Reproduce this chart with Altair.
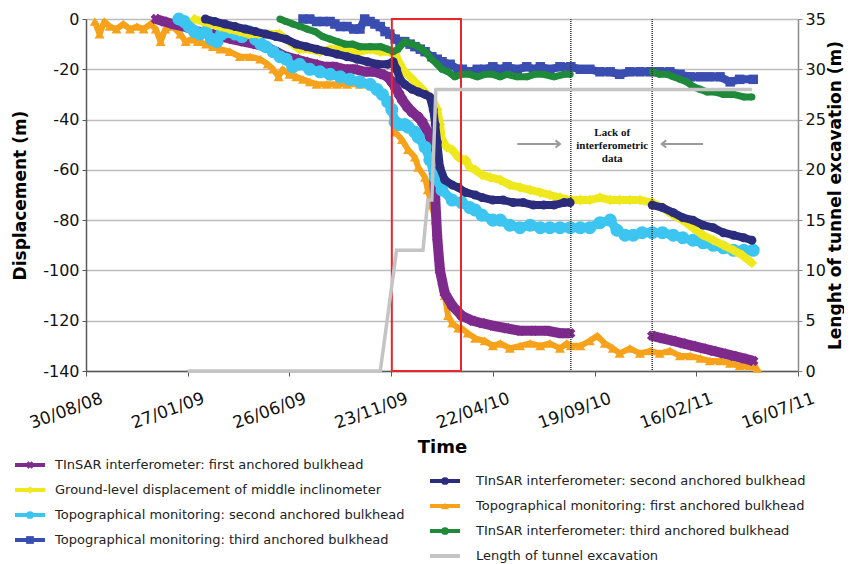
import altair as alt
import pandas as pd

START = pd.Timestamp("2008-08-30")
END = pd.Timestamp("2011-07-16")
TICK_DAYS = [0, 150, 300, 450, 600, 750, 900, 1050]

# [days since 30/08/08, displacement (m)]
topo_first = [[13,-1],[20,-6],[27,-1],[35,-3],[45,-4],[55,-2],[65,-4],[75,-3],[85,-4],[95,-2],[103,-4],[110,-9],[117,-4],[128,-3],[139,-6],[147,-9],[155,-8],[165,-9],[177,-10],[187,-11],[198,-12],[212,-13],[227,-15],[242,-15],[257,-16],[268,-18],[276,-20],[284,-23],[290,-20],[300,-22],[310,-23],[320,-24],[330,-25],[340,-26],[355,-26],[370,-26],[385,-26],[404,-26],[420,-26],[431,-28],[441,-30],[448,-33],[453,-40],[456,-45],[466,-48],[475,-52],[485,-55],[490,-59],[500,-63],[504,-68],[510,-74],[515,-80],[519,-89],[522,-96],[525,-104],[529,-110],[534,-118],[540,-121],[549,-123],[554,-123],[563,-125],[574,-127],[588,-128],[600,-130],[611,-129],[625,-131],[640,-130],[655,-129],[670,-130],[684,-129],[699,-131],[709,-129],[715,-130],[729,-130],[743,-128],[754,-126],[765,-129],[777,-131],[787,-133],[802,-131],[817,-133],[832,-132],[846,-133],[861,-132],[876,-134],[891,-134],[906,-135],[920,-136],[935,-136],[950,-137],[964,-138],[979,-138],[990,-139]]
topo_second = [[137,0],[145,-1],[152,-3],[160,-5],[168,-6],[177,-5],[185,-8],[193,-9],[200,-6],[210,-5],[220,-6],[230,-7],[240,-5],[250,-8],[258,-10],[265,-11],[276,-13],[286,-15],[295,-16],[305,-19],[315,-18],[330,-20],[345,-21],[360,-22],[375,-23],[389,-24],[404,-25],[419,-26],[429,-28],[437,-30],[445,-33],[451,-36],[456,-41],[462,-42],[470,-42],[475,-43],[485,-45],[490,-47],[500,-51],[507,-56],[515,-63],[525,-68],[540,-72],[554,-73],[566,-75],[574,-76],[584,-78],[600,-80],[611,-80],[625,-82],[640,-83],[655,-82],[670,-83],[684,-83],[699,-83],[714,-83],[729,-83],[743,-83],[758,-81],[773,-80],[783,-84],[795,-86],[807,-86],[820,-85],[835,-85],[850,-85],[866,-86],[880,-87],[895,-88],[910,-89],[925,-90],[940,-91],[955,-92],[970,-92],[984,-92]]
inclinometer = [[160,0],[172,-1],[185,-2],[198,-3],[212,-4],[227,-5],[240,-6],[255,-6],[270,-6],[285,-6],[300,-9],[315,-12],[330,-12],[345,-13],[360,-12],[375,-12],[389,-13],[404,-13],[419,-12],[434,-13],[448,-13],[456,-14],[463,-18],[470,-21],[478,-23],[485,-25],[493,-27],[500,-29],[507,-31],[512,-33],[518,-36],[522,-42],[525,-48],[532,-51],[540,-52],[549,-55],[556,-56],[560,-56],[566,-59],[574,-60],[584,-62],[596,-63],[611,-64],[625,-66],[640,-67],[655,-68],[670,-69],[684,-70],[699,-71],[715,-72],[729,-72],[743,-72],[758,-71],[773,-72],[787,-72],[802,-72],[817,-72],[835,-73],[850,-75],[866,-78],[880,-80],[895,-83],[910,-86],[925,-88],[940,-90],[955,-92],[968,-94],[982,-97]]
topo_third = [[320,0],[330,0],[340,-1],[350,-1],[360,-1],[367,-2],[375,-3],[385,-3],[395,-4],[404,-4],[411,0],[419,-1],[426,-2],[434,-3],[441,-5],[448,-6],[456,-8],[463,-9],[470,-9],[478,-10],[485,-11],[493,-12],[500,-13],[510,-15],[518,-16],[525,-17],[537,-18],[549,-20],[555,-20],[566,-21],[577,-20],[588,-20],[600,-19],[611,-20],[621,-19],[636,-20],[650,-19],[661,-20],[670,-19],[684,-20],[699,-19],[715,-19],[729,-20],[743,-20],[758,-21],[773,-21],[787,-22],[802,-21],[817,-21],[832,-21],[846,-21],[861,-21],[876,-22],[891,-23],[906,-23],[920,-23],[935,-23],[950,-25],[964,-24],[984,-24]]
tinsar_first = [[103,0],[115,-1],[128,-2],[145,-3],[165,-5],[185,-6],[200,-7],[215,-8],[232,-9],[250,-10],[265,-11],[280,-13],[295,-15],[310,-16],[323,-17],[338,-18],[352,-19],[367,-19],[382,-20],[397,-20],[411,-21],[426,-21],[437,-22],[445,-23],[451,-25],[456,-27],[462,-30],[466,-32],[474,-35],[481,-37],[490,-39],[496,-41],[504,-45],[510,-49],[512,-57],[515,-71],[518,-87],[522,-100],[529,-109],[540,-114],[554,-118],[570,-120],[584,-121],[600,-122],[620,-123],[640,-124],[660,-124],[680,-124],[700,-125],[714,-125],[835,-126],[850,-127],[866,-128],[880,-129],[895,-130],[910,-131],[925,-132],[940,-133],[955,-134],[970,-135],[984,-136]]
tinsar_second = [[176,0],[190,-1],[205,-2],[220,-3],[235,-4],[250,-5],[265,-6],[280,-7],[295,-8],[310,-10],[325,-11],[340,-12],[355,-13],[370,-14],[385,-15],[400,-16],[415,-17],[430,-18],[445,-18],[453,-17],[458,-20],[463,-24],[470,-26],[481,-28],[490,-29],[500,-30],[507,-31],[512,-36],[515,-42],[518,-49],[522,-59],[529,-64],[540,-66],[549,-67],[560,-69],[574,-70],[584,-71],[600,-72],[615,-72],[630,-73],[645,-73],[660,-74],[675,-74],[690,-74],[705,-73],[714,-73],[835,-74],[850,-75],[866,-77],[880,-79],[895,-80],[910,-82],[925,-83],[940,-85],[955,-86],[970,-87],[982,-88]]
tinsar_third = [[286,0],[295,-1],[305,-2],[316,-3],[326,-4],[338,-5],[349,-7],[360,-8],[371,-9],[382,-10],[393,-10],[404,-11],[419,-11],[434,-11],[445,-12],[453,-13],[460,-12],[470,-9],[481,-10],[490,-11],[500,-13],[510,-16],[518,-18],[525,-20],[534,-21],[544,-23],[554,-22],[566,-22],[577,-23],[588,-22],[600,-22],[611,-23],[621,-22],[636,-23],[650,-23],[661,-22],[675,-22],[690,-23],[705,-22],[714,-22],[835,-21],[846,-22],[857,-22],[866,-23],[876,-24],[886,-25],[896,-27],[906,-28],[916,-29],[927,-29],[940,-30],[955,-30],[970,-31],[982,-31]]
# [days, tunnel length (m)]
tunnel_length = [[150,0],[434,0],[458,12],[497,12],[504,17],[510,17],[516,28],[982,28]]

RED_BOX_DAYS = [451, 553]
NO_DATA_DAYS = [715, 835]
ARROWS = [[636, 699], [910, 849]]   # [tail day, head day]
ARROW_VALUE = -49.7
NOTE = "Lack of\ninterferometric\ndata"
NOTE_POS = [776, -45.3]

XPATH = "M-0.4,-1L0,-0.6L0.4,-1L1,-0.4L0.6,0L1,0.4L0.4,1L0,0.6L-0.4,1L-1,0.4L-0.6,0L-1,-0.4Z"

# label, data, color, shape, marker size, line width (drawing order)
SERIES = [
    ("Topographical monitoring: first anchored bulkhead", topo_first, "#f7a21b", "triangle-up", 100, 6),
    ("TInSAR interferometer: first anchored bulkhead", tinsar_first, "#7d2a8c", XPATH, 110, 10),
    ("Topographical monitoring: second anchored bulkhead", topo_second, "#3cc5f0", "circle", 170, 9),
    ("Ground-level displacement of middle inclinometer", inclinometer, "#efe81c", "diamond", 110, 8),
    ("TInSAR interferometer: second anchored bulkhead", tinsar_second, "#2b2d7c", "circle", 80, 8),
    ("Topographical monitoring: third anchored bulkhead", topo_third, "#3a4db0", "square", 90, 8),
    ("TInSAR interferometer: third anchored bulkhead", tinsar_third, "#1e8a3a", "circle", 50, 7),
]
TUNNEL_LABEL = "Length of tunnel excavation"
TUNNEL_COLOR = "#c4c4c4"

LEGEND_LEFT = ["TInSAR interferometer: first anchored bulkhead",
               "Ground-level displacement of middle inclinometer",
               "Topographical monitoring: second anchored bulkhead",
               "Topographical monitoring: third anchored bulkhead"]
LEGEND_RIGHT = ["TInSAR interferometer: second anchored bulkhead",
                "Topographical monitoring: first anchored bulkhead",
                "TInSAR interferometer: third anchored bulkhead",
                TUNNEL_LABEL]


def ms(ts):
    return int(ts.value // 10**6)


def to_date(d):
    return (START + pd.Timedelta(days=d)).strftime("%Y-%m-%d")


def frame(pairs, col="value"):
    df = pd.DataFrame(pairs, columns=["day", col])
    df["date"] = [to_date(d) for d in df["day"]]
    df["seg"] = (df["day"].diff().fillna(0) > 60).cumsum()
    return df


FONT = "DejaVu Sans"
xscale = alt.Scale(type="utc", domain=[ms(START), ms(END)])
x_axis = alt.Axis(
    values=[ms(START + pd.Timedelta(days=d)) for d in TICK_DAYS],
    labelExpr="utcFormat(datum.value, '%d/%m/%y')",
    grid=False, labelAngle=-20, labelAlign="right", labelBaseline="top",
    labelOffset=13, labelPadding=14, labelFontSize=17, labelColor="#111",
    tickSize=5, tickColor="#5a5a5a", domainColor="#5a5a5a", domainWidth=1.5,
    titleFontSize=18, titleFontWeight="bold", titlePadding=7, titleColor="#000")


def X(field="date"):
    return alt.X(f"{field}:T", scale=xscale, axis=x_axis, title="Time")


yscale = alt.Scale(domain=[-140, 0], nice=False, zero=False)
y_axis = alt.Axis(
    orient="left", values=list(range(-140, 1, 20)), grid=True,
    labelExpr="datum.value < 0 ? '-' + format(-datum.value, 'd') : format(datum.value, 'd')",
    gridColor="#bdbdbd", gridWidth=1.5, tickSize=4, tickColor="#5a5a5a",
    domainColor="#5a5a5a", domainWidth=1.5, labelFontSize=16, labelPadding=3,
    labelColor="#111", titleFontSize=17, titleFontWeight="bold", titlePadding=13,
    titleColor="#000")


def Y(field="value"):
    return alt.Y(f"{field}:Q", scale=yscale, axis=y_axis, title="Displacement (m)")


layers = []
for label, pts, color, shape, size, lw in SERIES:
    df = frame(pts)
    base = alt.Chart(df)
    layers.append(base.mark_line(color=color, strokeWidth=lw, strokeJoin="round").encode(
        x=X(), y=Y(), detail="seg:N"))
    layers.append(base.mark_point(shape=shape, filled=True, size=size, color=color, opacity=1).encode(
        x=X(), y=Y()))

# red box
box_df = pd.DataFrame({"start": [to_date(RED_BOX_DAYS[0])], "end": [to_date(RED_BOX_DAYS[1])],
                       "top": [0], "bottom": [-140]})
layers.append(alt.Chart(box_df).mark_rect(filled=False, stroke="#e8262b", strokeWidth=2).encode(
    x=X("start"), x2="end:T", y=Y("top"), y2="bottom:Q"))

# dotted lines
rule_df = pd.DataFrame({"date": [to_date(d) for d in NO_DATA_DAYS]})
layers.append(alt.Chart(rule_df).mark_rule(color="#333333", strokeWidth=1.5, strokeDash=[1, 1]).encode(
    x=X()))

# annotation text
note_df = pd.DataFrame({"date": [to_date(NOTE_POS[0])], "value": [NOTE_POS[1]], "text": [NOTE]})
layers.append(alt.Chart(note_df).mark_text(
    lineBreak="\n", font="Liberation Serif", fontWeight="bold", fontSize=11, lineHeight=13,
    align="center", baseline="middle", color="#111").encode(x=X(), y=Y(), text="text:N"))

# arrows
arrow_df = pd.DataFrame({"tail": [to_date(a[0]) for a in ARROWS], "head": [to_date(a[1]) for a in ARROWS],
                         "value": [ARROW_VALUE] * len(ARROWS)})
layers.append(alt.Chart(arrow_df).mark_rule(color="#9a9a9a", strokeWidth=2).encode(
    x=X("tail"), x2="head:T", y=Y()))
for i, (t, h) in enumerate(ARROWS):
    path = "M-1,-0.8L0,0L-1,0.8" if h > t else "M1,-0.8L0,0L1,0.8"
    layers.append(alt.Chart(arrow_df.iloc[[i]]).mark_point(
        shape=path, filled=False, size=80, color="#9a9a9a", strokeWidth=2, opacity=1).encode(
        x=X("head"), y=Y()))

# legend (pixel positions relative to plot origin)
rows = []
for col, labels in enumerate([LEGEND_LEFT, LEGEND_RIGHT]):
    for r, lab in enumerate(labels):
        x1 = -71 if col == 0 else 344
        rows.append({"label": lab, "lx1": x1, "lx2": x1 + 30, "lxm": x1 + 15,
                     "lxt": x1 + (40 if col == 0 else 46), "ly": 446 + 25 * r + 16 * col})
leg = pd.DataFrame(rows)
all_labels = [s[0] for s in SERIES] + [TUNNEL_LABEL]
all_colors = [s[2] for s in SERIES] + [TUNNEL_COLOR]
lcolor = alt.Color("label:N", scale=alt.Scale(domain=all_labels, range=all_colors), legend=None)
layers.append(alt.Chart(leg).mark_rule(strokeWidth=4).encode(
    x=alt.X("lx1:Q", scale=None), x2="lx2:Q", y=alt.Y("ly:Q", scale=None), color=lcolor))
mk = leg[leg["label"] != TUNNEL_LABEL]
layers.append(alt.Chart(mk).mark_point(filled=True, size=60, opacity=1).encode(
    x=alt.X("lxm:Q", scale=None), y=alt.Y("ly:Q", scale=None), color=lcolor,
    shape=alt.Shape("label:N", scale=alt.Scale(domain=[s[0] for s in SERIES],
                                               range=[s[3] for s in SERIES]), legend=None)))
layers.append(alt.Chart(leg).mark_text(align="left", baseline="middle", fontSize=13, font=FONT,
                                       color="#222").encode(
    x=alt.X("lxt:Q", scale=None), y=alt.Y("ly:Q", scale=None), text="label:N"))

left = alt.layer(*layers)

tun = frame(tunnel_length, col="length")
right = alt.Chart(tun).mark_line(color=TUNNEL_COLOR, strokeWidth=3.5).encode(
    x=X(),
    y=alt.Y("length:Q", scale=alt.Scale(domain=[0, 35], nice=False),
            axis=alt.Axis(orient="right", values=list(range(0, 36, 5)), grid=False, tickSize=4,
                          tickColor="#8a8a8a", domainColor="#8a8a8a", domainWidth=1.5,
                          labelFontSize=16, labelPadding=3, labelColor="#111",
                          titleFontSize=17, titleFontWeight="bold", titlePadding=2,
                          titleAngle=270, titleBaseline="top", titleColor="#000"),
            title="Lenght of tunnel excavation (m)"))

chart = alt.layer(left, right).resolve_scale(y="independent").properties(
    width=712, height=352, padding={"left": 3, "top": 3, "right": 0, "bottom": 0}
).configure(font=FONT).configure_view(stroke=None).configure_axis(labelFont=FONT, titleFont=FONT)

chart.save("out.html", embed_options={"renderer": "svg", "actions": False})
